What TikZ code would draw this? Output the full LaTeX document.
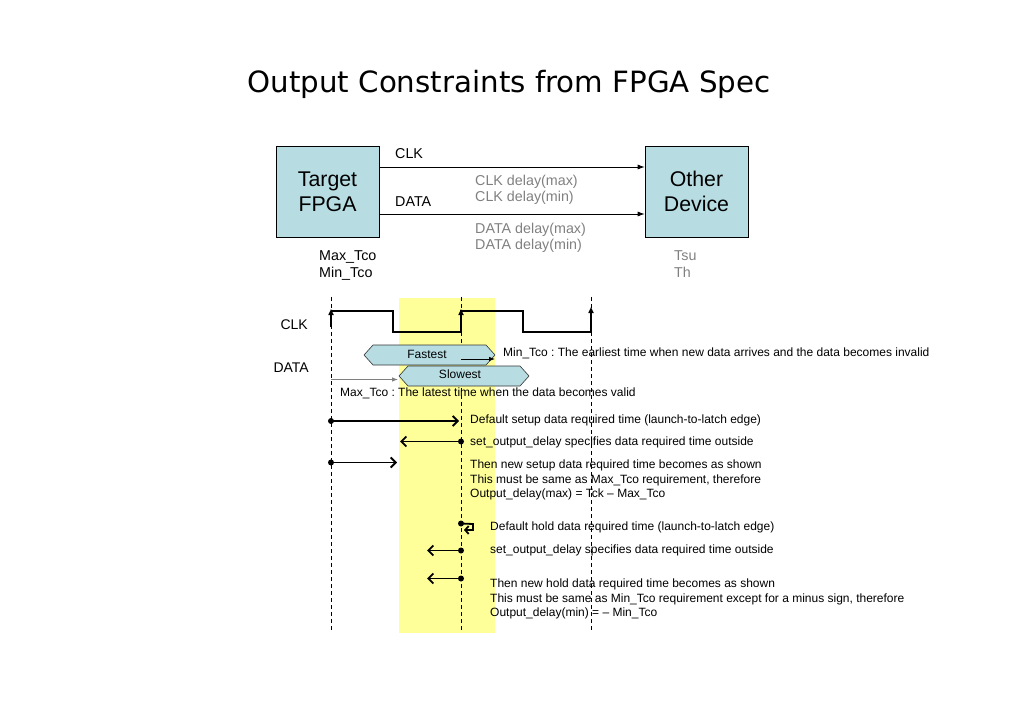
\documentclass[tikz,border=0pt]{standalone}
\usepackage{fontspec}
\setmainfont{Liberation Sans}
\newfontfamily\titlefont{DejaVu Sans}
\usetikzlibrary{arrows.meta}
\definecolor{boxblue}{RGB}{183,221,226}
\definecolor{band}{RGB}{255,255,153}
\definecolor{graytxt}{RGB}{128,128,128}
\frenchspacing
\begin{document}
\begin{tikzpicture}[x=1pt,y=-1pt,
  devbox/.style={draw=black, line width=0.6pt, fill=boxblue, minimum width=103pt, minimum height=91pt, inner sep=0pt, align=center, font=\fontsize{21.3}{25}\selectfont},
  lbl/.style={anchor=base west, inner sep=0pt, font=\fontsize{14.3}{16}\selectfont},
  glbl/.style={lbl, text=graytxt},
  note/.style={anchor=base west, inner sep=0pt, font=\fontsize{12}{14}\selectfont},
  sig/.style={line width=0.8pt, -{Latex[length=7pt,width=5pt]}},
  thinarr/.style={line width=0.8pt, -{Latex[length=6pt,width=4.5pt]}},
  req/.style={line width=1.8pt, -{Straight Barb[length=5pt,width=10pt]}},
  edgearr/.style={line width=1.6pt, -{Triangle[length=6pt,width=5pt]}},
  wave/.style={line width=1.6pt, line join=miter},
  hexshape/.style={draw=black!80, line width=0.6pt, fill=boxblue},
  dotc/.style={circle, fill=black, inner sep=0pt, minimum size=6pt},
  gridline/.style={line width=0.8pt, dash pattern=on 4pt off 3pt}
]
\useasboundingbox (0,0) rectangle (1017,719);

% title
\node[anchor=base, inner sep=0pt, font=\titlefont\fontsize{29.3}{34}\selectfont] (title) at (509,93) {Output Constraints from FPGA Spec};

% top block diagram
\node[devbox] (fpga) at (327.5,191.5) {Target\\FPGA};
\node[devbox] (other) at (696.5,191.5) {Other\\Device};
\draw[sig] (fpga.east |- 0,167) -- (other.west |- 0,167);
\draw[sig] (fpga.east |- 0,214) -- (other.west |- 0,214);
\node[lbl] (clklbl) at (395,158.5) {CLK};
\node[lbl] (datalbl) at (395,206.5) {DATA};
\node[glbl] (cdmax) at (475,186) {CLK delay(max)};
\node[glbl] (cdmin) at (475,202) {CLK delay(min)};
\node[glbl] (ddmax) at (475,234) {DATA delay(max)};
\node[glbl] (ddmin) at (475,250) {DATA delay(min)};
\node[lbl] (maxtco) at (319,261) {Max\_Tco};
\node[lbl] (mintco) at (319,277) {Min\_Tco};
\node[glbl] (tsu) at (674,261) {Tsu};
\node[glbl] (th) at (674,277) {Th};

% timing diagram
\fill[band] (399,298) rectangle (495,633);

\node[anchor=base east, inner sep=0pt, font=\fontsize{14}{16}\selectfont] (tclk) at (308,329) {CLK};
\node[anchor=base east, inner sep=0pt, font=\fontsize{14}{16}\selectfont] (tdata) at (309,372) {DATA};

\node[note] (minnote) at (503,356) {Min\_Tco : The earliest time when new data arrives and the data becomes invalid};
\node[note] (maxnote) at (340,396) {Max\_Tco : The latest time when the data becomes valid};

\node[note] (s1) at (470,423.5) {Default setup data required time (launch-to-latch edge)};
\node[note] (s2) at (470,445) {set\_output\_delay specifies data required time outside};
\node[note] (s3a) at (470,468.5) {Then new setup data required time becomes as shown};
\node[note] (s3b) at (470,483) {This must be same as Max\_Tco requirement, therefore};
\node[note] (s3c) at (470,497.5) {Output\_delay(max) = Tck -- Max\_Tco};

\node[note] (h1) at (490,530.5) {Default hold data required time (launch-to-latch edge)};
\node[note] (h2) at (490,553.5) {set\_output\_delay specifies data required time outside};
\node[note] (h3a) at (490,587.5) {Then new hold data required time becomes as shown};
\node[note] (h3b) at (490,602) {This must be same as Min\_Tco requirement except for a minus sign, therefore};
\node[note] (h3c) at (490,616.5) {Output\_delay(min) = -- Min\_Tco};

% dashed edge lines
\draw[gridline] (331,297) -- (331,632);
\draw[gridline] (461,297) -- (461,632);
\draw[gridline] (591,297) -- (591,632);

% clock waveform
\draw[wave] (331,311) -- (393,311) -- (393,332) -- (461,332) -- (461,311) -- (523,311) -- (523,332) -- (591,332);
\draw[edgearr] (331,327) -- (331,309);
\draw[edgearr] (461,332) -- (461,309);
\draw[edgearr] (591,332) -- (591,307);

% data windows
\draw[hexshape] (364,355) -- (373,345) -- (486,345) -- (495,355) -- (486,365) -- (373,365) -- cycle;
\node[anchor=base, inner sep=0pt, font=\fontsize{12}{14}\selectfont] (fast) at (427,358.5) {Fastest};
\draw[hexshape] (399,376) -- (408,366) -- (520,366) -- (529,376) -- (520,386) -- (408,386) -- cycle;
\node[anchor=base, inner sep=0pt, font=\fontsize{12}{14}\selectfont] (slow) at (460,378.5) {Slowest};

\coordinate (fa) at (461,359);
\coordinate (fb) at (495,359);
\draw[thinarr] (fa) -- (fb);
\coordinate (ga) at (331,379.5);
\coordinate (gb) at (398,379.5);
\draw[thinarr, draw=graytxt] (ga) -- (gb);

% setup required-time arrows
\node[dotc] (sd1) at (331,421) {};
\coordinate (st1) at (459,421);
\draw[req] (sd1.center) -- (st1);
\node[dotc] (sd2) at (461,441.5) {};
\coordinate (st2) at (400,441.5);
\draw[req] (sd2.center) -- (st2);
\node[dotc] (sd3) at (331,462.5) {};
\coordinate (st3) at (397,462.5);
\draw[req] (sd3.center) -- (st3);

% hold required-time arrows
\node[dotc] (hd1) at (461,523.5) {};
\coordinate (ht1) at (464,530);
\draw[line width=1.8pt, -{Straight Barb[length=3.5pt,width=8pt]}] (hd1.center) -- (473,524) -- (473,530) -- (ht1);
\node[dotc] (hd2) at (461,550.5) {};
\coordinate (ht2) at (427,550.5);
\draw[req] (hd2.center) -- (ht2);
\node[dotc] (hd3) at (461,578.5) {};
\coordinate (ht3) at (427,578.5);
\draw[req] (hd3.center) -- (ht3);
\end{tikzpicture}
\end{document}
